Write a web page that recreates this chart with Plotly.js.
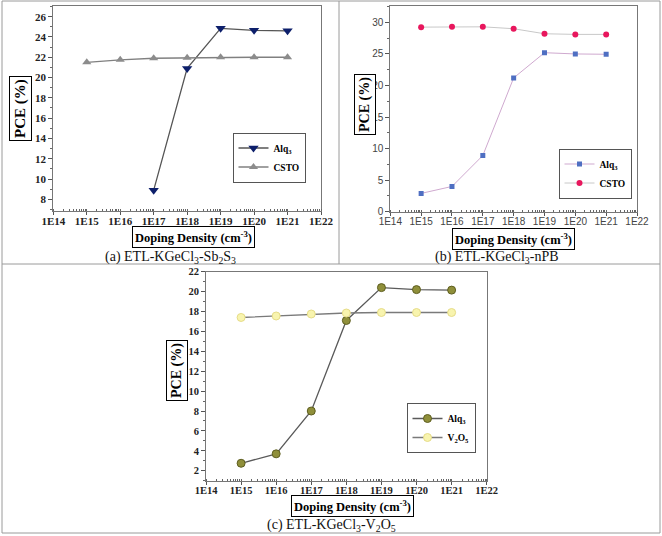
<!DOCTYPE html>
<html>
<head>
<meta charset="utf-8">
<script src="https://cdn.plot.ly/plotly-3.0.1.min.js"></script>
<style>html,body{margin:0;padding:0;background:#fff;}#chart{width:662px;height:536px;}</style>
</head>
<body>
<div id="chart"></div>
<script>
// ---- data ----
const doping = [1e15, 1e16, 1e17, 1e18, 1e19, 1e20, 1e21];
const dopingA_Alq3 = [1e17, 1e18, 1e19, 1e20, 1e21];
const a_Alq3 = [8.9, 20.9, 24.85, 24.65, 24.6];
const a_CSTO = [21.5, 21.75, 21.9, 21.95, 22.0, 22.0, 22.0];
const b_Alq3 = [2.9, 4.0, 8.9, 21.2, 25.2, 25.0, 24.95];
const b_CSTO = [29.25, 29.3, 29.3, 29.0, 28.2, 28.1, 28.1];
const c_Alq3 = [2.75, 3.7, 8.0, 17.1, 20.4, 20.2, 20.15];
const c_V2O5 = [17.4, 17.55, 17.75, 17.85, 17.9, 17.9, 17.9];
const xTickVals = [1e14, 1e15, 1e16, 1e17, 1e18, 1e19, 1e20, 1e21, 1e22];
const xTickText = ["1E14","1E15","1E16","1E17","1E18","1E19","1E20","1E21","1E22"];
const captions = ["(a) ETL-KGeCl<sub>3</sub>-Sb<sub>2</sub>S<sub>3</sub>", "(b) ETL-KGeCl<sub>3</sub>-nPB", "(c) ETL-KGeCl<sub>3</sub>-V<sub>2</sub>O<sub>5</sub>"];

const W = 662, H = 536;
const px = x => x / W;
const py = y => 1 - y / H;
const serif = "Liberation Serif, Times New Roman, serif";
const sans = "Liberation Sans, Arial, sans-serif";

const traces = [
  {x: dopingA_Alq3, y: a_Alq3, name: "Alq<sub>3</sub>", mode: "lines+markers", xaxis: "x", yaxis: "y", legend: "legend",
   line: {color: "#555555", width: 1.3}, marker: {symbol: "triangle-down", size: 9, color: "#0d1f6b"}},
  {x: doping, y: a_CSTO, name: "CSTO", mode: "lines+markers", xaxis: "x", yaxis: "y", legend: "legend",
   line: {color: "#808080", width: 1.3}, marker: {symbol: "triangle-up", size: 8, color: "#8c8c8c"}},
  {x: doping, y: b_Alq3, name: "Alq<sub>3</sub>", mode: "lines+markers", xaxis: "x2", yaxis: "y2", legend: "legend2",
   line: {color: "#cfa9cf", width: 1}, marker: {symbol: "square", size: 5, color: "#4f6fc2"}},
  {x: doping, y: b_CSTO, name: "CSTO", mode: "lines+markers", xaxis: "x2", yaxis: "y2", legend: "legend2",
   line: {color: "#c8c8c8", width: 1}, marker: {symbol: "circle", size: 6, color: "#e8175d"}},
  {x: doping, y: c_Alq3, name: "Alq<sub>3</sub>", mode: "lines+markers", xaxis: "x3", yaxis: "y3", legend: "legend3",
   line: {color: "#5a5a5a", width: 1.3}, marker: {symbol: "circle", size: 8, color: "#8f8f3a", line: {color: "#5e5e20", width: 1}}},
  {x: doping, y: c_V2O5, name: "V<sub>2</sub>O<sub>5</sub>", mode: "lines+markers", xaxis: "x3", yaxis: "y3", legend: "legend3",
   line: {color: "#7a7a7a", width: 1.3}, marker: {symbol: "circle", size: 8, color: "#f8f4ae", line: {color: "#e6dc88", width: 1}}}
];

function xAxis(domain, anchor, tfont) {
  return {domain: domain, anchor: anchor, type: "log", range: [14, 22],
    tickmode: "array", tickvals: xTickVals, ticktext: xTickText,
    ticks: "outside", ticklen: 3, tickcolor: "#555", showline: true, linecolor: "#777", linewidth: 1, mirror: true,
    showgrid: false, zeroline: false, tickfont: tfont, ticklabelstandoff: -3,
    minor: {ticks: "inside", ticklen: 2, tickcolor: "#666", dtick: "D1", showgrid: false}};
}
function yAxis(domain, anchor, range, dtick, tfont) {
  return {domain: domain, anchor: anchor, range: range, tickmode: "linear", tick0: 0, dtick: dtick,
    ticks: "outside", ticklen: 4, tickcolor: "#555", showline: true, linecolor: "#777", linewidth: 1, mirror: true,
    showgrid: false, zeroline: false, tickfont: tfont,
    minor: {ticks: "outside", ticklen: 2, tickcolor: "#666", dtick: dtick / 2, showgrid: false}};
}

const fontA = {family: serif, size: 11, color: "#222", weight: "bold"};
const fontB = {family: sans, size: 10, color: "#444"};
const fontC = {family: serif, size: 10.5, color: "#222", weight: "bold"};

function legendAt(x, y, font) {
  return {x: px(x), y: py(y), xanchor: "center", yanchor: "middle", bgcolor: "#fff", bordercolor: "#555", borderwidth: 1,
    font: font, tracegroupgap: 0, itemwidth: 30};
}

function boxTitle(text, x, y, size, angle) {
  return {text: text, x: px(x), y: py(y), xref: "paper", yref: "paper", showarrow: false,
    xanchor: "center", yanchor: "middle",
    textangle: angle || 0, bordercolor: "#000", borderwidth: 1, borderpad: 2, bgcolor: "#fff",
    font: {family: serif, size: size, color: "#000", weight: "bold"}};
}
function caption(text, x, y) {
  return {text: text, x: px(x), y: py(y), xref: "paper", yref: "paper", showarrow: false,
    xanchor: "center", yanchor: "middle",
    font: {family: serif, size: 14, color: "#111"}};
}

const grid = "#9a9a9a";
const legFont = {family: serif, size: 9.5, color: "#000", weight: "bold"};
const layout = {
  width: W, height: H, margin: {l: 0, r: 0, t: 0, b: 0}, paper_bgcolor: "#fff", plot_bgcolor: "#fff",
  showlegend: true,
  xaxis: xAxis([px(53.3), px(321)], "y", fontA),
  yaxis: yAxis([py(211), py(6)], "x", [6.85, 27.05], 2, fontA),
  xaxis2: xAxis([px(390.3), px(637)], "y2", fontB),
  yaxis2: yAxis([py(211.7), py(6)], "x2", [0, 32.6], 5, fontB),
  xaxis3: xAxis([px(206), px(486.7)], "y3", fontC),
  yaxis3: yAxis([py(480.7), py(271.7)], "x3", [1, 22], 2, fontC),
  legend: legendAt(269, 157.5, legFont),
  legend2: legendAt(595, 173.5, legFont),
  legend3: legendAt(441, 428, legFont),
  annotations: [
    boxTitle("PCE (%)", 20, 109, 15, -90),
    boxTitle("Doping Density (cm<sup>-3</sup>)", 193, 236.5, 12.5),
    boxTitle("PCE (%)", 365, 105, 14, -90),
    boxTitle("Doping Density (cm<sup>-3</sup>)", 513, 239, 12.5),
    boxTitle("PCE (%)", 177, 371, 14, -90),
    boxTitle("Doping Density (cm<sup>-3</sup>)", 353, 506, 12.5),
    caption(captions[0], 170, 257),
    caption(captions[1], 497, 257),
    caption(captions[2], 331, 525)
  ],
  shapes: [
    {type: "rect", xref: "paper", yref: "paper", x0: px(2), x1: px(660), y0: py(533), y1: py(1), line: {color: grid, width: 1}},
    {type: "line", xref: "paper", yref: "paper", x0: px(2), x1: px(660), y0: py(264), y1: py(264), line: {color: grid, width: 1}},
    {type: "line", xref: "paper", yref: "paper", x0: px(339), x1: px(339), y0: py(1), y1: py(264), line: {color: grid, width: 1}}
  ]
};

Plotly.newPlot("chart", traces, layout, {displayModeBar: false, staticPlot: true});
</script>
</body>
</html>
